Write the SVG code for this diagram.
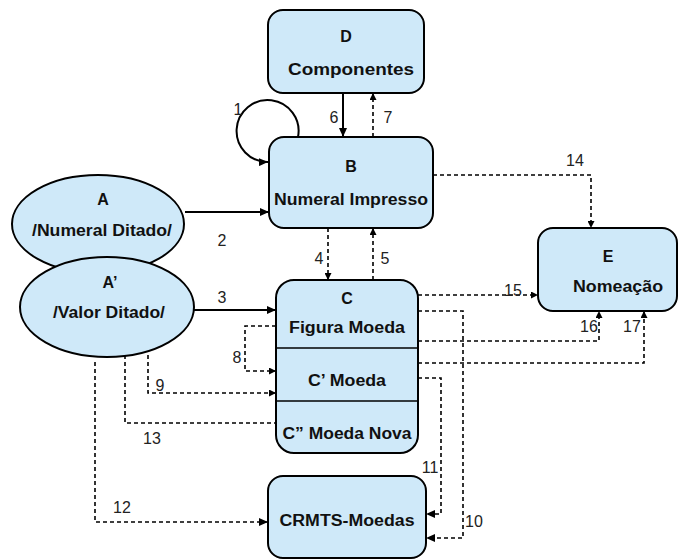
<svg xmlns="http://www.w3.org/2000/svg" width="684" height="559" viewBox="0 0 684 559">
<defs>
<marker id="ah" markerUnits="userSpaceOnUse" markerWidth="9" markerHeight="8" refX="9" refY="4" orient="auto"><path d="M0,0 L9,4 L0,8 z" fill="#000"/></marker>
<marker id="ahs" markerUnits="userSpaceOnUse" markerWidth="7" markerHeight="7" refX="7" refY="3.5" orient="auto"><path d="M0,0 L7,3.5 L0,7 z" fill="#000"/></marker>
<style>
.n{fill:#cfe9f9;stroke:#000;stroke-width:2}
.t{font-family:"Liberation Sans",Arial,sans-serif;font-weight:bold;font-size:16px;text-anchor:middle;fill:#111}
.l{font-family:"Liberation Sans",Arial,sans-serif;font-size:16px;fill:#222;text-anchor:middle}
.s{fill:none;stroke:#000;stroke-width:2}
.d{fill:none;stroke:#000;stroke-width:1.6;stroke-dasharray:4,3}
</style>
</defs>
<g id="connectors">
<path class="s" d="M298,137 A31,31 0 1 0 268,162" marker-end="url(#ah)"/>
<line class="s" x1="343" y1="93" x2="343" y2="137" marker-end="url(#ah)"/>
<line class="d" x1="373" y1="137" x2="373" y2="93" marker-end="url(#ahs)"/>
<line class="s" x1="185" y1="212" x2="269" y2="212" marker-end="url(#ah)"/>
<line class="s" x1="193" y1="310" x2="276" y2="310" marker-end="url(#ah)"/>
<line class="d" x1="328" y1="228" x2="328" y2="280" marker-end="url(#ahs)"/>
<line class="d" x1="373" y1="280" x2="373" y2="228" marker-end="url(#ahs)"/>
<polyline class="d" points="433,175 591,175 591,228" marker-end="url(#ahs)"/>
<line class="d" x1="418" y1="295" x2="538" y2="295" marker-end="url(#ahs)"/>
<polyline class="d" points="418,341 599,341 599,311" marker-end="url(#ahs)"/>
<polyline class="d" points="418,363 644,363 644,311" marker-end="url(#ahs)"/>
<polyline class="d" points="418,311 463,311 463,538 426,538" marker-end="url(#ah)"/>
<polyline class="d" points="418,378 441,378 441,514 426,514" marker-end="url(#ah)"/>
<polyline class="d" points="95,362 95,522 268,522" marker-end="url(#ah)"/>
<polyline class="d" points="125,355 125,423 276,423"/>
<polyline class="d" points="148,348 148,393 276,393" marker-end="url(#ahs)"/>
<polyline class="d" points="276,326 245,326 245,371 276,371" marker-end="url(#ahs)"/>
</g>
<g id="labels">
<text class="l" x="238" y="115">1</text>
<text class="l" x="222" y="246">2</text>
<text class="l" x="222" y="303">3</text>
<text class="l" x="319" y="264">4</text>
<text class="l" x="385" y="264">5</text>
<text class="l" x="334" y="123">6</text>
<text class="l" x="388" y="123">7</text>
<text class="l" x="237" y="363">8</text>
<text class="l" x="160" y="391">9</text>
<text class="l" x="474" y="527">10</text>
<text class="l" x="430" y="473">11</text>
<text class="l" x="122" y="513">12</text>
<text class="l" x="152" y="444">13</text>
<text class="l" x="575" y="166">14</text>
<text class="l" x="513" y="296">15</text>
<text class="l" x="589" y="332">16</text>
<text class="l" x="632" y="332">17</text>
</g>
<g id="D"><rect class="n" x="268" y="10" width="156" height="83" rx="15"/><text class="t" x="346" y="42">D</text><text class="t" x="351" y="75" textLength="126" lengthAdjust="spacingAndGlyphs">Componentes</text></g>
<g id="B"><rect class="n" x="269" y="137" width="164" height="91" rx="15"/><text class="t" x="351" y="172">B</text><text class="t" x="351" y="205" textLength="154" lengthAdjust="spacingAndGlyphs">Numeral Impresso</text></g>
<g id="A"><ellipse class="n" cx="98" cy="224" rx="86" ry="49"/><text class="t" x="103" y="205">A</text><text class="t" x="102" y="236" textLength="140" lengthAdjust="spacingAndGlyphs">/Numeral Ditado/</text></g>
<g id="A2"><ellipse class="n" cx="107" cy="307" rx="87" ry="50"/><text class="t" x="110" y="288">A’</text><text class="t" x="109" y="318" textLength="112" lengthAdjust="spacingAndGlyphs">/Valor Ditado/</text></g>
<g id="C"><rect class="n" x="276" y="280" width="142" height="173" rx="18"/><line x1="276" y1="348" x2="418" y2="348" stroke="#000" stroke-width="1.5"/><line x1="276" y1="401" x2="418" y2="401" stroke="#000" stroke-width="1.5"/><text class="t" x="347" y="304">C</text><text class="t" x="347" y="333" textLength="116" lengthAdjust="spacingAndGlyphs">Figura Moeda</text><text class="t" x="347" y="386" textLength="78" lengthAdjust="spacingAndGlyphs">C’ Moeda</text><text class="t" x="347" y="439" textLength="129" lengthAdjust="spacingAndGlyphs">C” Moeda Nova</text></g>
<g id="E"><rect class="n" x="538" y="228" width="139" height="83" rx="15"/><text class="t" x="608" y="262">E</text><text class="t" x="618" y="292" textLength="90" lengthAdjust="spacingAndGlyphs">Nomeação</text></g>
<g id="CRMTS"><rect class="n" x="268" y="476" width="158" height="82" rx="15"/><text class="t" x="347" y="526" textLength="135" lengthAdjust="spacingAndGlyphs">CRMTS-Moedas</text></g>
</svg>
